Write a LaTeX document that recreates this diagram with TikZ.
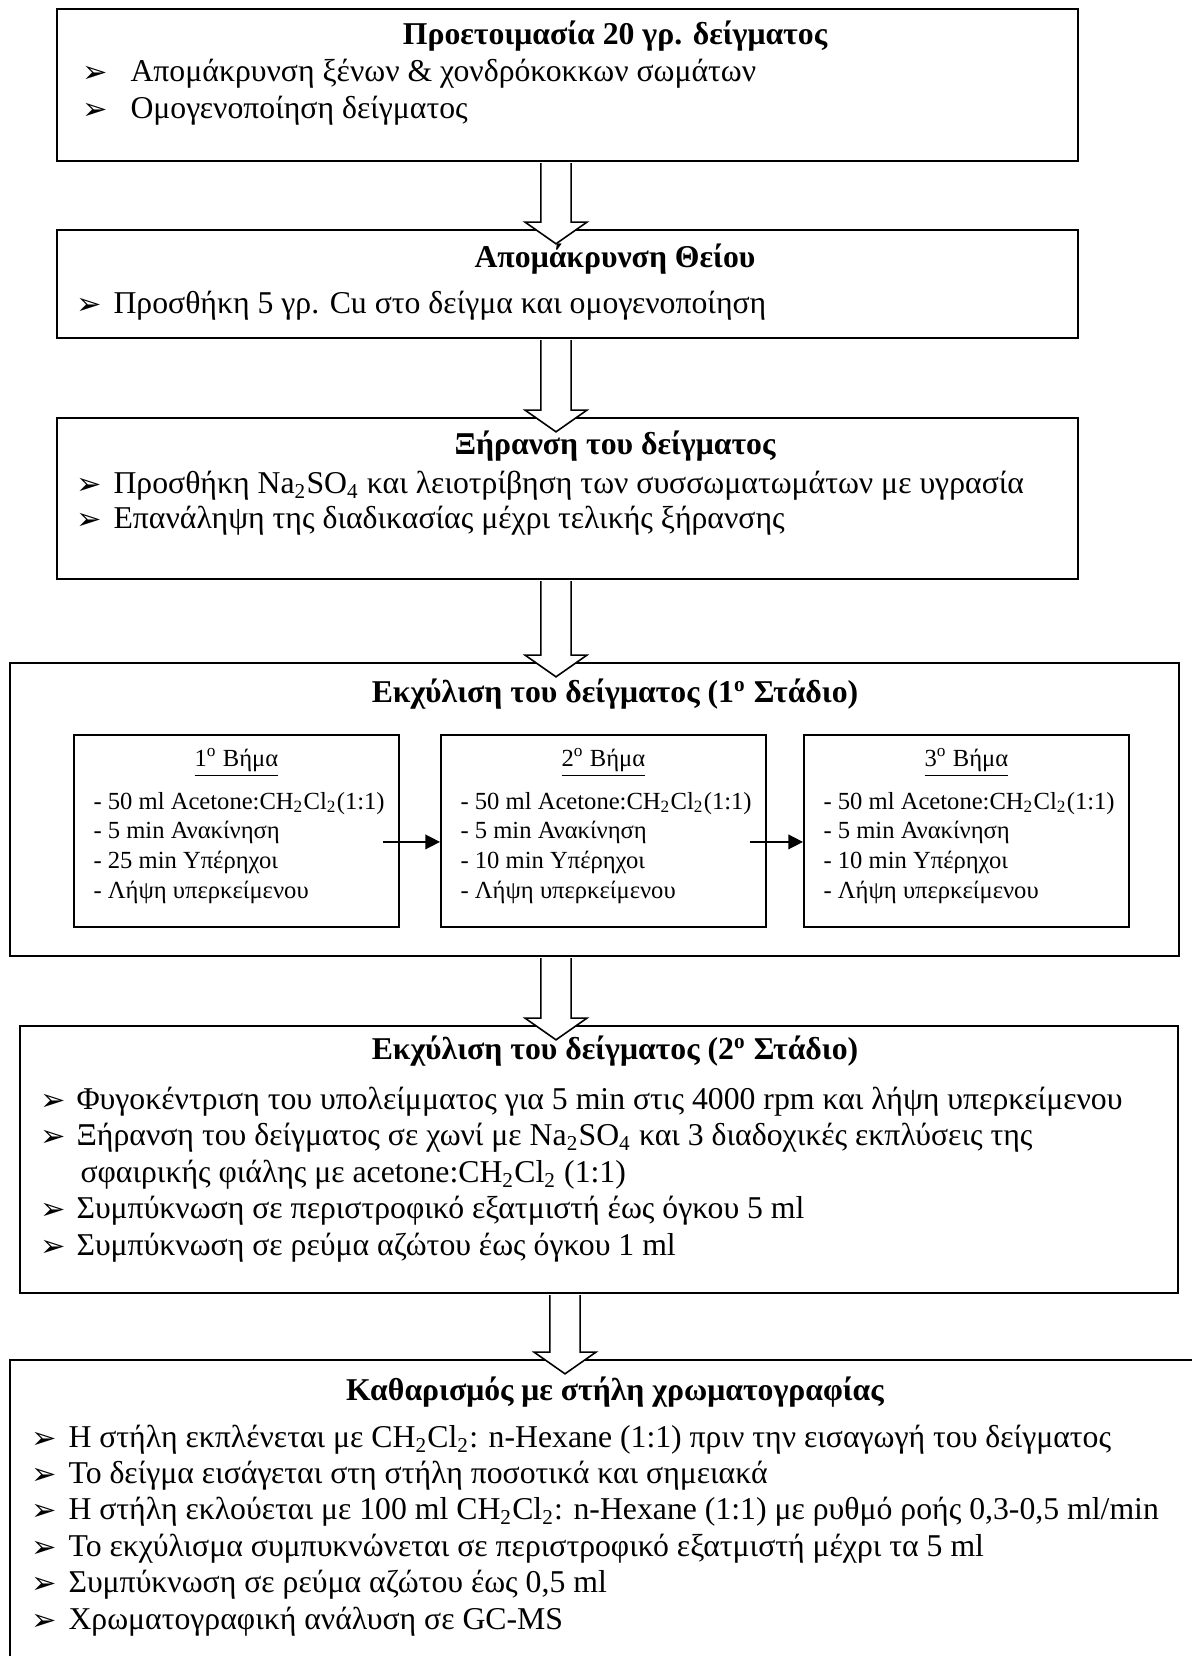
\documentclass[12pt,tikz,border=0pt]{standalone}
\usepackage{fontspec}
\setmainfont{Liberation Serif}
\newfontfamily\symbfont{DejaVu Sans}
\usepackage{tikz}
\usetikzlibrary{arrows.meta,positioning,calc}

\newlength{\pxu}\setlength{\pxu}{0.378pt}
% bullet arrowhead, padded to a given width
\newcommand{\bul}[1]{\makebox[#1\pxu][l]{\raisebox{-0.2pt}{\symbfont\fontsize{11.5}{11.5}\selectfont ➢}}}
\newcommand{\dcm}{CH\textsubscript{2}Cl\textsubscript{2}}
\newcommand{\sulfate}{Na\textsubscript{2}SO\textsubscript{4}}

\tikzset{
  stagebox/.style={draw, line width=0.75pt, anchor=north west, inner sep=0pt},
  boxtitle/.style={font=\bfseries, inner sep=0pt, text height=8.5pt, text depth=2.5pt},
  itemtext/.style={anchor=west, inner sep=0pt, text height=8.5pt, text depth=2.5pt},
  steptext/.style={anchor=west, inner sep=0pt, font=\fontsize{9.3}{11}\selectfont,
    text height=7pt, text depth=2pt},
  steparrow/.style={-{Triangle[length=5.5pt,width=5.5pt]}, line width=0.6pt},
  bigarrow/.style={draw, fill=white, line width=0.6pt,
    to path={let \p1=(\tikztostart), \p2=(\tikztotarget) in
      (\x1-5.7pt,\y1-0.4pt) -- (\x1-5.7pt,\y2+2.6pt) -- (\x1-11.7pt,\y2+2.6pt)
      -- (\x1,\y2-5.6pt) -- (\x1+11.7pt,\y2+2.6pt) -- (\x1+5.7pt,\y2+2.6pt)
      -- (\x1+5.7pt,\y1-0.4pt)}}
}

\begin{document}
\begin{tikzpicture}[x=0.378pt, y=-0.378pt]
    \useasboundingbox (0,0) rectangle (1192,1656);
    \fill[white] (0,0) rectangle (1192,1656);
    \clip (0,0) rectangle (1192,1656);

    % Stage boxes
    \node[stagebox, minimum width=1021*\pxu, minimum height=152*\pxu] (prep) at (56,8) {};
    \node[stagebox, minimum width=1021*\pxu, minimum height=108*\pxu] (sulf) at (56,229) {};
    \node[stagebox, minimum width=1021*\pxu, minimum height=161*\pxu] (dry) at (56,417) {};
    \node[stagebox, minimum width=1169*\pxu, minimum height=293*\pxu] (ext1) at (9,662) {};
    \node[stagebox, minimum width=1158*\pxu, minimum height=267*\pxu] (ext2) at (19,1025) {};
    \node[stagebox, minimum width=1300*\pxu, minimum height=400*\pxu] (clean) at (9,1359) {};

    % Preparation
    \node[boxtitle] (prepT) at (615,37) {Προετοιμασία 20 γρ. δείγματος};
    \node[itemtext] (prep1) at (82,74) {\bul{48}Απομάκρυνση ξένων \& χονδρόκοκκων σωμάτων};
    \node[itemtext] (prep2) at (82,111) {\bul{48}Ομογενοποίηση δείγματος};

    % Sulphur removal
    \node[boxtitle] (sulfT) at (615,260) {Απομάκρυνση Θείου};
    \node[itemtext] (sulf1) at (76,306) {\bul{37}Προσθήκη 5 γρ. Cu στο δείγμα και ομογενοποίηση};

    % Drying
    \node[boxtitle] (dryT) at (615,447) {Ξήρανση του δείγματος};
    \node[itemtext] (dry1) at (76,486) {\bul{37}Προσθήκη \sulfate{} και λειοτρίβηση των συσσωματωμάτων με υγρασία};
    \node[itemtext] (dry2) at (76,521) {\bul{37}Επανάληψη της διαδικασίας μέχρι τελικής ξήρανσης};

    % First extraction stage, three steps
    \node[boxtitle] (ext1T) at (615,695) {Εκχύλιση του δείγματος (1\textsuperscript{o} Στάδιο)};
    \foreach \i/\xl/\us in {1/73/25, 2/440/10, 3/803/10} {
        \node[stagebox, line width=0.7pt, minimum width=325*\pxu, minimum height=192*\pxu] (step\i) at (\xl,734) {};
        \node[steptext, anchor=center] (step\i h) at ($(step\i.north)+(0,26)$) {\underline{\i\textsuperscript{o} Βήμα}};
        \node[steptext] (step\i a) at ($(step\i.north west)+(20,69)$) {- 50 ml Acetone:\dcm(1:1)};
        \node[steptext] (step\i b) at ($(step\i.north west)+(20,98)$) {- 5 min Ανακίνηση};
        \node[steptext] (step\i c) at ($(step\i.north west)+(20,128)$) {- \us{} min Υπέρηχοι};
        \node[steptext] (step\i d) at ($(step\i.north west)+(20,158)$) {- Λήψη υπερκείμενου};
    }
    \foreach \a/\b in {1/2, 2/3}
        \draw[steparrow] ($(step\a.east)+(-17,11)$) -- ($(step\b.west)+(0,11)$);

    % Second extraction stage
    \node[boxtitle] (ext2T) at (615,1052) {Εκχύλιση του δείγματος (2\textsuperscript{o} Στάδιο)};
    \node[itemtext] (ext2a) at (40,1102) {\bul{36}Φυγοκέντριση του υπολείμματος για 5 min στις 4000 rpm και λήψη υπερκείμενου};
    \node[itemtext] (ext2b) at (40,1138) {\bul{36}Ξήρανση του δείγματος σε χωνί με \sulfate{} και 3 διαδοχικές εκπλύσεις της};
    \node[itemtext] (ext2c) at (80,1175) {σφαιρικής φιάλης με acetone:\dcm{} (1:1)};
    \node[itemtext] (ext2d) at (40,1211) {\bul{36}Συμπύκνωση σε περιστροφικό εξατμιστή έως όγκου 5 ml};
    \node[itemtext] (ext2e) at (40,1248) {\bul{36}Συμπύκνωση σε ρεύμα αζώτου έως όγκου 1 ml};

    % Column clean-up
    \node[boxtitle] (cleanT) at (615,1393) {Καθαρισμός με στήλη χρωματογραφίας};
    \node[itemtext] (clean1) at (31,1440) {\bul{37}Η στήλη εκπλένεται με \dcm: n-Hexane (1:1) πριν την εισαγωγή του δείγματος};
    \node[itemtext] (clean2) at (31,1476) {\bul{37}Το δείγμα εισάγεται στη στήλη ποσοτικά και σημειακά};
    \node[itemtext] (clean3) at (31,1512) {\bul{37}Η στήλη εκλούεται με 100 ml \dcm: n-Hexane (1:1) με ρυθμό ροής 0,3-0,5 ml/min};
    \node[itemtext] (clean4) at (31,1549) {\bul{37}Το εκχύλισμα συμπυκνώνεται σε περιστροφικό εξατμιστή μέχρι τα 5 ml};
    \node[itemtext] (clean5) at (31,1585) {\bul{37}Συμπύκνωση σε ρεύμα αζώτου έως 0,5 ml};
    \node[itemtext] (clean6) at (31,1622) {\bul{37}Χρωματογραφική ανάλυση σε GC-MS};

    % Hollow block arrows between stages
    \coordinate (ax) at (556,0);
    \coordinate (bx) at (565,0);
    \draw[bigarrow] (prep.south -| ax) to (sulf.north -| ax);
    \draw[bigarrow] (sulf.south -| ax) to (dry.north -| ax);
    \draw[bigarrow] (dry.south -| ax) to (ext1.north -| ax);
    \draw[bigarrow] (ext1.south -| ax) to (ext2.north -| ax);
    \draw[bigarrow] (ext2.south -| bx) to (clean.north -| bx);
\end{tikzpicture}
\end{document}
